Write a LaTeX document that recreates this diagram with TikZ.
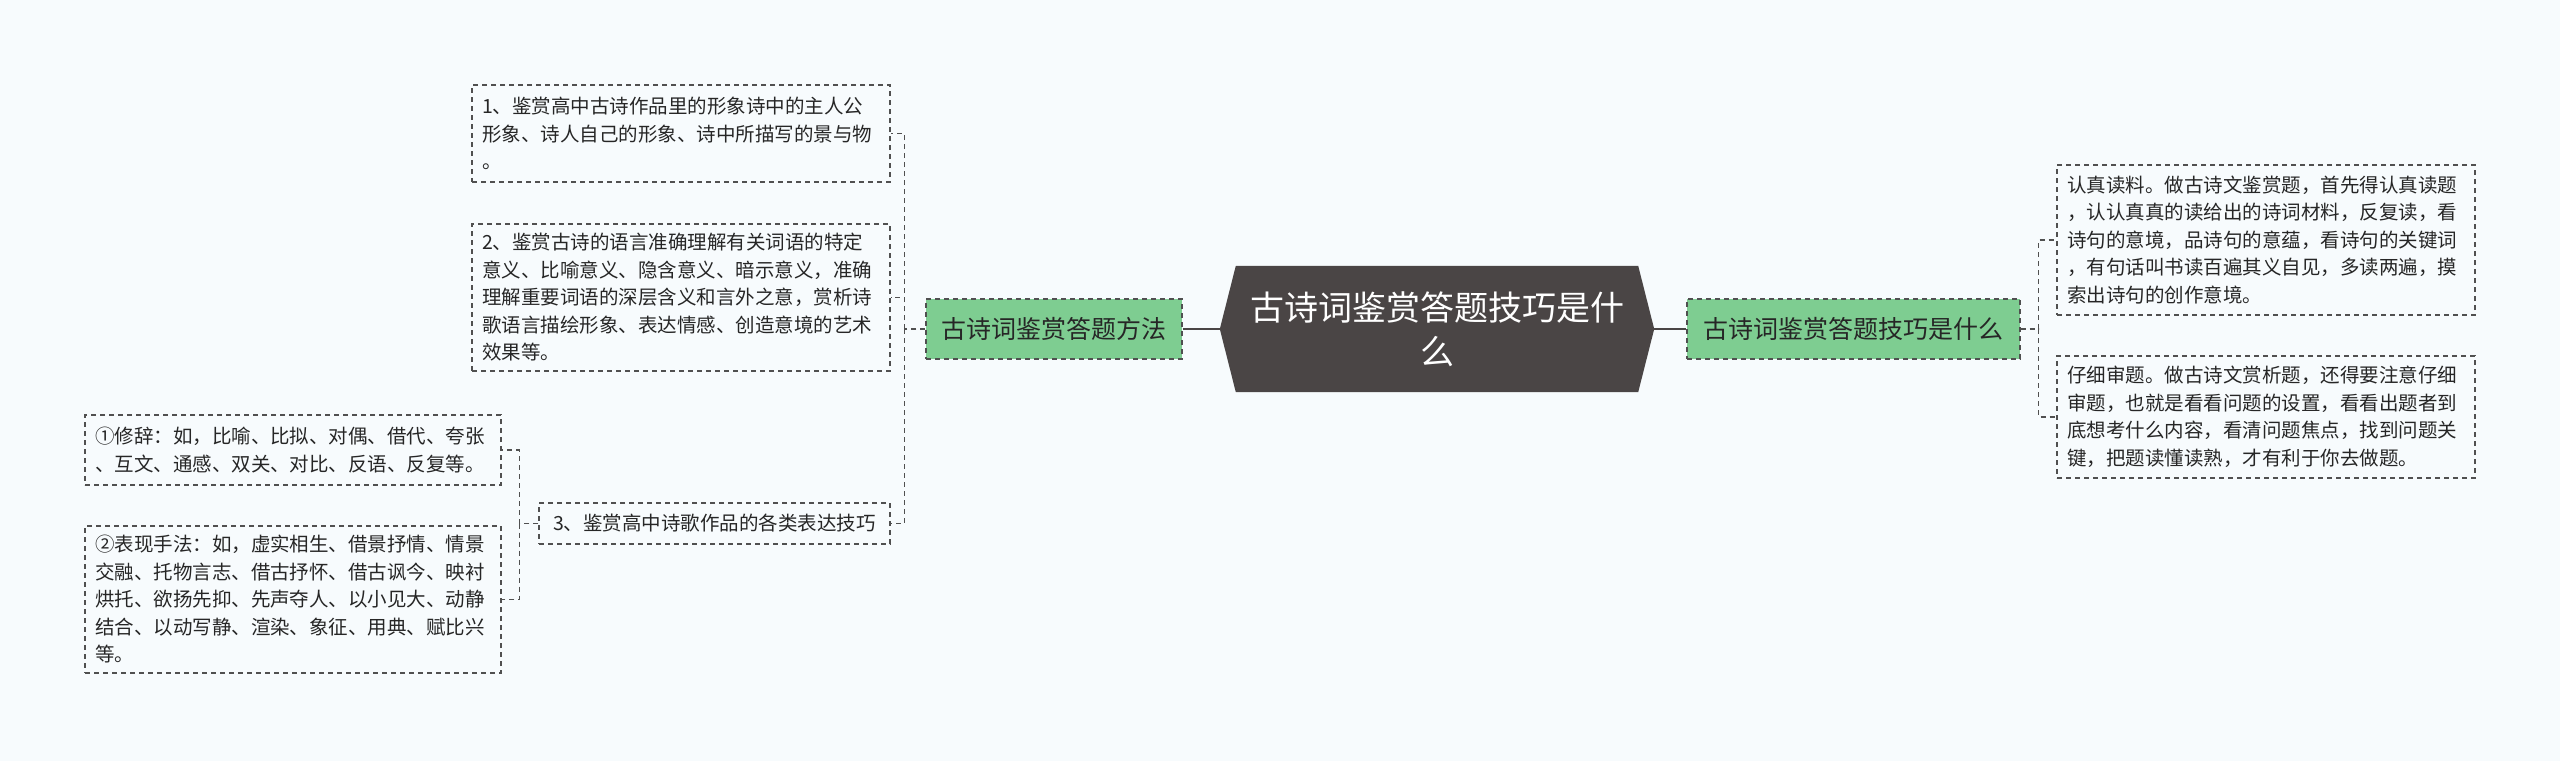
\documentclass[tikz,border=0pt]{standalone}
\usepackage{fontspec}
\newfontfamily\cjk{Noto Sans CJK SC}
\usetikzlibrary{calc}
\pgfdeclarelayer{background}
\pgfsetlayers{background,main}
\definecolor{bgc}{HTML}{F7FBFD}
\definecolor{darkc}{HTML}{4A4545}
\definecolor{greenc}{HTML}{7ECD91}
\definecolor{linec}{HTML}{505050}
\definecolor{textc}{HTML}{262626}
\tikzset{
  leaf/.style={draw=linec, line width=1.4pt, dash pattern=on 5pt off 4pt, fill=bgc,
    text=textc, align=left, inner xsep=10pt, inner ysep=0pt,
    font=\cjk\fontsize{19.5}{27.5}\selectfont},
  greenbox/.style={draw=linec, line width=1.4pt, dash pattern=on 5pt off 4pt, fill=greenc,
    text=black!85, align=center, inner sep=0pt, minimum height=60pt,
    font=\cjk\fontsize{25}{30}\selectfont},
  rootbox/.style={text=white, align=center, inner sep=0pt, minimum width=434pt,
    minimum height=126pt, text width=400pt, font=\cjk\fontsize{34}{44}\selectfont},
  conn/.style={draw=linec, line width=1.4pt, dash pattern=on 5pt off 4pt},
  rootconn/.style={draw=darkc, line width=2.4pt}
}
\begin{document}
\begin{tikzpicture}[x=1pt,y=-1pt]
\begin{pgfonlayer}{background}
\fill[bgc] (0,0) rectangle (2560,761);
\end{pgfonlayer}
\useasboundingbox (0,0) rectangle (2560,761);

% root
\node[rootbox] (root) at (1437,329) {古诗词鉴赏答题技巧是什\\么};
\begin{pgfonlayer}{background}
\fill[darkc] (root.west) -- ($(root.north west)+(16,0)$) -- ($(root.north east)+(-16,0)$)
  -- (root.east) -- ($(root.south east)+(-16,0)$) -- ($(root.south west)+(16,0)$) -- cycle;
\end{pgfonlayer}

% green branches
\node[greenbox, minimum width=256pt] (lg) at (1054,329) {古诗词鉴赏答题方法};
\node[greenbox, minimum width=333pt] (rg) at (1853.5,329) {古诗词鉴赏答题技巧是什么};

% left leaves
\node[leaf, text width=398pt, minimum height=97pt] (b1) at (681,133.5)
  {1、鉴赏高中古诗作品里的形象诗中的主人公\\形象、诗人自己的形象、诗中所描写的景与物\\。};
\node[leaf, text width=398pt, minimum height=147pt] (b2) at (681,297.5)
  {2、鉴赏古诗的语言准确理解有关词语的特定\\意义、比喻意义、隐含意义、暗示意义，准确\\理解重要词语的深层含义和言外之意，赏析诗\\歌语言描绘形象、表达情感、创造意境的艺术\\效果等。};
\node[leaf, align=center, minimum width=351pt, minimum height=41pt] (b3) at (714.5,523.5)
  {3、鉴赏高中诗歌作品的各类表达技巧};
\node[leaf, text width=396pt, minimum height=70pt] (c1) at (293,450)
  {①修辞：如，比喻、比拟、对偶、借代、夸张\\、互文、通感、双关、对比、反语、反复等。};
\node[leaf, text width=396pt, minimum height=147pt] (c2) at (293,599.5)
  {②表现手法：如，虚实相生、借景抒情、情景\\交融、托物言志、借古抒怀、借古讽今、映衬\\烘托、欲扬先抑、先声夺人、以小见大、动静\\结合、以动写静、渲染、象征、用典、赋比兴\\等。};

% right leaves
\node[leaf, text width=398pt, minimum height=150pt] (r1) at (2266,240)
  {认真读料。做古诗文鉴赏题，首先得认真读题\\，认认真真的读给出的诗词材料，反复读，看\\诗句的意境，品诗句的意蕴，看诗句的关键词\\，有句话叫书读百遍其义自见，多读两遍，摸\\索出诗句的创作意境。};
\node[leaf, text width=398pt, minimum height=122pt] (r2) at (2266,417)
  {仔细审题。做古诗文赏析题，还得要注意仔细\\审题，也就是看看问题的设置，看看出题者到\\底想考什么内容，看清问题焦点，找到问题关\\键，把题读懂读熟，才有利于你去做题。};

% connectors
\draw[rootconn] (lg.east) -- (root.west);
\draw[rootconn] (root.east) -- (rg.west);

\coordinate (ls) at ($(lg.west)+(-21,0)$);
\draw[conn] (lg.west) -- (ls);
\draw[conn] (ls) |- (b1.east);
\draw[conn] (ls) |- (b2.east);
\draw[conn] (ls) |- (b3.east);

\coordinate (ms) at ($(b3.west)+(-19,0)$);
\draw[conn] (b3.west) -- (ms);
\draw[conn] (ms) |- (c1.east);
\draw[conn] (ms) |- (c2.east);

\coordinate (rs) at ($(rg.east)+(18,0)$);
\draw[conn] (rg.east) -- (rs);
\draw[conn] (rs) |- (r1.west);
\draw[conn] (rs) |- (r2.west);
\end{tikzpicture}
\end{document}
